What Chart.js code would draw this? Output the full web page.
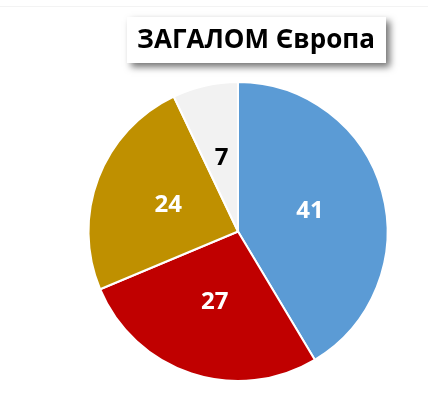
<!DOCTYPE html>
<html>
<head>
<meta charset="utf-8">
<script src="https://cdn.jsdelivr.net/npm/chart.js@4"></script>
<style>
  html, body { margin: 0; padding: 0; background: #ffffff; }
  #wrap { width: 428px; height: 412px; position: relative; }
</style>
</head>
<body>
<div id="wrap"><canvas id="chart1" width="428" height="412"></canvas></div>
<script>

// dani
var titel = "ЗАГАЛОМ Європа";
var kategorien = ["A", "B", "C", "D"];
var werte = [41, 27, 24, 7];
var farben = ["#5B9BD5", "#C00000", "#BF9000", "#F2F2F2"];
var textFarben = ["#ffffff", "#ffffff", "#ffffff", "#000000"];


// titel box mit schatten
const titelPlugin = {
  id: 'titelBox',
  afterDraw(chart) {
    const ctx = chart.ctx;
    ctx.save();
    // dünne linie oben
    ctx.strokeStyle = '#f3f3f3';
    ctx.lineWidth = 1;
    ctx.beginPath();
    ctx.moveTo(0, 6.5);
    ctx.lineTo(428, 6.5);
    ctx.stroke();

    ctx.shadowColor = 'rgba(0,0,0,0.55)';
    ctx.shadowBlur = 7;
    ctx.shadowOffsetX = 4;
    ctx.shadowOffsetY = 4;
    ctx.fillStyle = '#ffffff';
    ctx.fillRect(127, 17, 259, 46);
    ctx.restore();

    ctx.save();
    ctx.font = 'bold 26px "Open Sans"';
    ctx.fillStyle = '#000000';
    ctx.textAlign = 'center';
    ctx.textBaseline = 'middle';
    ctx.fillText(titel, 256, 41);
    ctx.restore();
  }
};

// zahlen in die stücke
const labelPlugin = {
  id: 'werteLabels',
  afterDatasetsDraw(chart) {
    const ctx = chart.ctx;
    const meta = chart.getDatasetMeta(0);
    ctx.save();
    ctx.font = 'bold 24px "Open Sans"';
    ctx.textAlign = 'center';
    ctx.textBaseline = 'middle';
    for (let i = 0; i < meta.data.length; i++) {
      const pos = meta.data[i].tooltipPosition();
      ctx.fillStyle = textFarben[i];
      ctx.fillText(werte[i] + '', pos.x, pos.y);
    }
    ctx.restore();
  }
};

const ctx1 = document.getElementById('chart1').getContext('2d');
const chart1 = new Chart(ctx1, {
  type: 'pie',
  data: {
    labels: kategorien,
    datasets: [{
      data: werte,
      backgroundColor: farben,
      borderColor: '#ffffff',
      borderWidth: 2
    }]
  },
  options: {
    responsive: false,
    animation: false,
    layout: {
      padding: { top: 81, bottom: 30, left: 87, right: 39 }
    },
    plugins: {
      legend: { display: false },
      tooltip: { enabled: false }
    }
  },
  plugins: [labelPlugin, titelPlugin]
});

</script>
</body>
</html>
